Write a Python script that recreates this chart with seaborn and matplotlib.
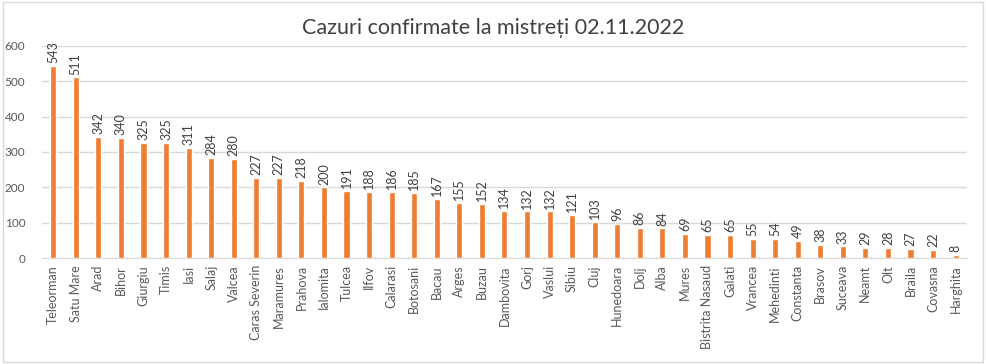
import matplotlib
matplotlib.use("Agg")
import matplotlib.pyplot as plt
import seaborn as sns
import pandas as pd

counties = ["Teleorman", "Satu Mare", "Arad", "Bihor", "Giurgiu", "Timis", "Iasi", "Salaj",
            "Valcea", "Caras Severin", "Maramures", "Prahova", "Ialomita", "Tulcea", "Ilfov",
            "Calarasi", "Botosani", "Bacau", "Arges", "Buzau", "Dambovita", "Gorj", "Vaslui",
            "Sibiu", "Cluj", "Hunedoara", "Dolj", "Alba", "Mures", "Bistrita Nasaud", "Galati",
            "Vrancea", "Mehedinti", "Constanta", "Brasov", "Suceava", "Neamt", "Olt", "Braila",
            "Covasna", "Harghita"]
cases = [543, 511, 342, 340, 325, 325, 311, 284, 280, 227, 227, 218, 200, 191, 188,
         186, 185, 167, 155, 152, 134, 132, 132, 121, 103, 96, 86, 84, 69, 65, 65,
         55, 54, 49, 38, 33, 29, 28, 27, 22, 8]

df = pd.DataFrame({"judet": counties, "cazuri": cases})

sns.set_style("white")
plt.rcParams["font.family"] = ["Lato", "DejaVu Sans"]

fig = plt.figure(figsize=(9.86, 3.64), dpi=100)
ax = fig.add_axes([0.0426, 0.291, 0.938, 0.583])

sns.barplot(data=df, x="judet", y="cazuri", color="#ED7D31", width=0.27,
            saturation=1, ax=ax, zorder=3)

ax.set_ylim(0, 600)
ax.set_yticks(range(0, 601, 100))
ax.grid(axis="y", color="#D9D9D9", linewidth=1, zorder=0)
for s in ["top", "right", "left"]:
    ax.spines[s].set_visible(False)
ax.spines["bottom"].set_color("#D9D9D9")
ax.set_xlabel("")
ax.set_ylabel("")
ax.tick_params(axis="x", rotation=90, labelsize=9, colors="#595959", length=0, pad=5)
ax.tick_params(axis="y", labelsize=8.5, colors="#595959", length=0, pad=12)
ax.set_xlim(-0.5, len(counties) - 0.5)

for i, v in enumerate(cases):
    ax.text(i, v + 8, str(v), rotation=90, ha="center", va="bottom",
            fontsize=9, color="#404040")

fig.text(0.5, 0.922, "Cazuri confirmate la mistreți 02.11.2022", ha="center", va="center",
         fontsize=15.5, color="#404040")

fig.patches.append(plt.Rectangle((0.003, 0.006), 0.994, 0.988, transform=fig.transFigure,
                                 fill=False, edgecolor="#D9D9D9", linewidth=1))

fig.savefig("out.png", dpi=100)
